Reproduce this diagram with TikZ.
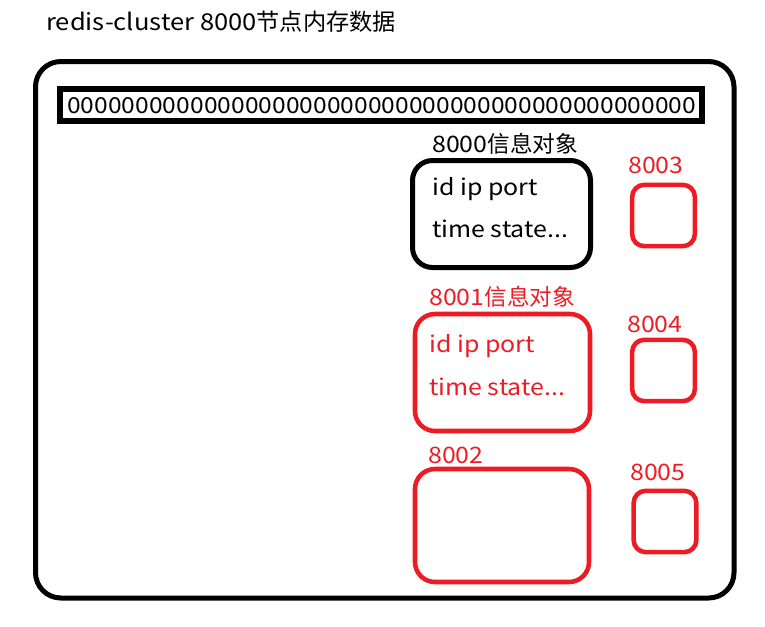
\documentclass[tikz,border=0pt]{standalone}
\usepackage{fontspec}
\setmainfont[FakeStretch=1.1]{Noto Sans CJK SC}
\newfontfamily\cjfont{Noto Sans CJK SC}
\newcommand\cj[1]{{\cjfont #1}}
\newfontfamily\zerofont[FakeStretch=1.12]{Noto Sans CJK SC}
\definecolor{pred}{HTML}{ED1C24}
\begin{document}
\begin{tikzpicture}[x=0.75pt,y=-0.75pt,
  box/.style={draw, line width=3.75pt, rounded corners=15pt, inner sep=0pt},
  redbox/.style={box, draw=pred, line width=3.4pt},
  smallbox/.style={redbox, rounded corners=9pt, minimum width=47pt, minimum height=46pt},
  lbl/.style={anchor=base west, inner sep=0pt, font=\fontsize{17pt}{20pt}\selectfont},
  rlbl/.style={lbl, text=pred}]
\useasboundingbox (0,0) rectangle (765,626);
\node[lbl, font=\fontsize{17.4pt}{20pt}\selectfont] (title) at (46,30) {redis-cluster 8000\cj{节点内存数据}};
\node[box, rounded corners=19pt, minimum width={698.5*0.75pt}, minimum height={536.5*0.75pt}] (outer) at (384.75,329.75) {};
\node[draw, line width=4.5pt, inner sep=0pt, minimum width={642*0.75pt}, minimum height={32.5*0.75pt}] (bar) at (380.5,104.75) {};
\node[lbl, font=\zerofont\fontsize{16.5pt}{19pt}\selectfont] (zeros) at (67,113) {0000000000000000000000000000000000000000000000};
% 8000
\node[box, minimum width={178*0.75pt}, minimum height={107*0.75pt}] (n8000) at (501.5,214) {};
\node[lbl] (l8000) at (432,152) {8000\cj{信息对象}};
\node[lbl] (a8000) at (432,195) {id ip port};
\node[lbl] (b8000) at (432,237) {time state...};
% 8001
\node[redbox, minimum width={175*0.75pt}, minimum height={117*0.75pt}] (n8001) at (502.5,372.5) {};
\node[rlbl] (l8001) at (429,305) {8001\cj{信息对象}};
\node[rlbl] (a8001) at (429,352) {id ip port};
\node[rlbl] (b8001) at (429,395) {time state...};
% 8002
\node[redbox, minimum width={174*0.75pt}, minimum height={113*0.75pt}] (n8002) at (502,525.5) {};
\node[rlbl] (l8002) at (428,463) {8002};
% small
\node[smallbox] (n8003) at (663.5,215.5) {};
\node[rlbl] (l8003) at (628,173) {8003};
\node[smallbox] (n8004) at (663.5,370.5) {};
\node[rlbl] (l8004) at (627,332) {8004};
\node[smallbox] (n8005) at (665,521.5) {};
\node[rlbl] (l8005) at (630,480) {8005};
\end{tikzpicture}
\end{document}
